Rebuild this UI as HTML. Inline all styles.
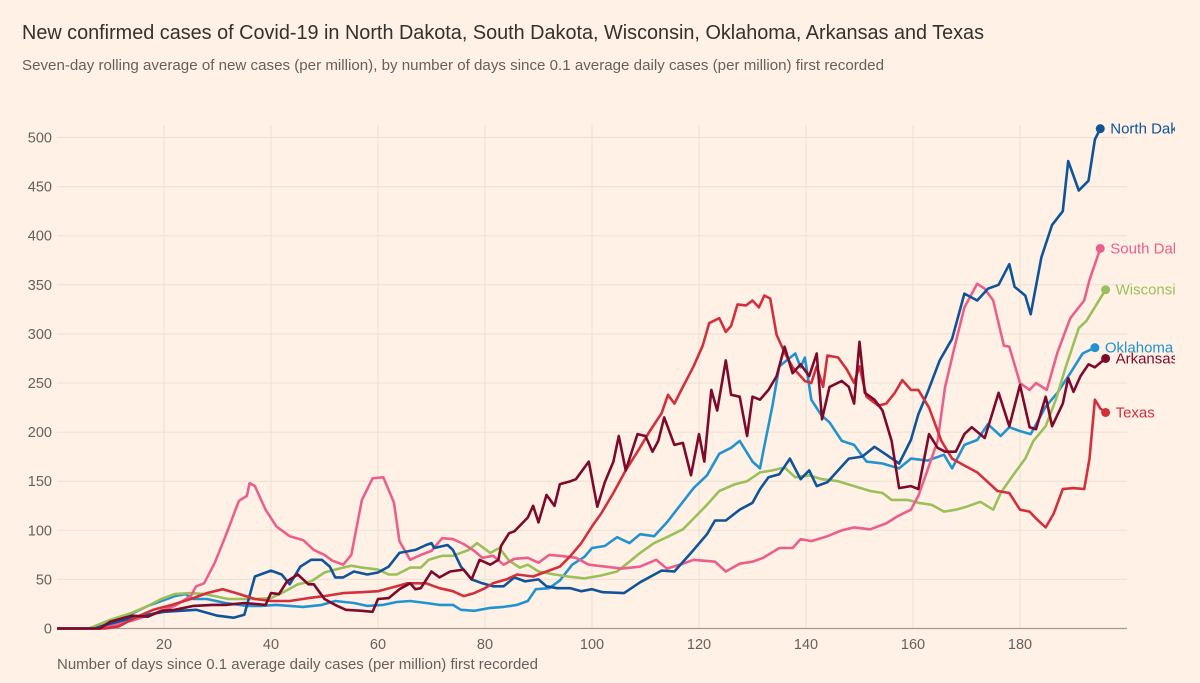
<!DOCTYPE html>
<html><head><meta charset="utf-8"><style>
html,body{margin:0;padding:0;background:#fff1e5;}
svg{display:block;font-family:"Liberation Sans",sans-serif;}
</style></head><body>
<svg id="chart" width="1200" height="683" viewBox="0 0 1200 683">
<rect width="1200" height="683" fill="#fff1e5"/>
<text x="22" y="39" font-size="20" fill="#33302e" textLength="962" lengthAdjust="spacingAndGlyphs">New confirmed cases of Covid-19 in North Dakota, South Dakota, Wisconsin, Oklahoma, Arkansas and Texas</text>
<text x="22" y="70" font-size="14.5" fill="#66605c" textLength="862" lengthAdjust="spacingAndGlyphs">Seven-day rolling average of new cases (per million), by number of days since 0.1 average daily cases (per million) first recorded</text>
<g id="grid"></g><g id="series"></g>
<text x="57" y="669" font-size="14.5" fill="#66605c" textLength="481" lengthAdjust="spacingAndGlyphs">Number of days since 0.1 average daily cases (per million) first recorded</text>
</svg>
<script>
const xTicks=[20,40,60,80,100,120,140,160,180];
const yTicks=[0,50,100,150,200,250,300,350,400,450,500];
const seriesNames=["North Dakota","South Dakota","Wisconsin","Oklahoma","Arkansas","Texas"];
const ndDays=[0,7,10,15,20,26,30,33,35,37,40,42,43.5,45.5,47.5,49.5,51,52,53.5,55.5,58,60,62,64,67,69,70,70.5,73,74,75.5,77.5,79.5,81.5,83.5,85.5,87.5,90,91.5,93.5,96,98,100,102,106,109,113,115.4,118.5,121.5,123,125,127.6,130,131.4,133,135,137,139,140.6,142,144,146,148,150.5,152.8,155,157.4,159.6,161,162.7,165,167.3,169.6,172,174,176,178,179,181,182,184,186,188,189,191,192.8,194,195];
const ndVals=[0,0,5,12,17,19,13,11,14,53,59,55,45,63,70,70,63,52,52,58,55,57,63,77,80,85,87,82,85,80,63,50,46,43,43,52,48,50,43,41,41,38,40,37,36,47,59,58,77,96,110,110,121,128,142,154,157,173,152,161,145,149,161,173,175,185,177,168,192,218,240,273,295,341,334,346,350,371,348,339,320,378,411,425,476,446,456,498,509];
const sdDays=[0,8,14,18,22,25,26,27.5,29.5,31.5,34,35.5,36,37,39,41,43.5,46,48,50,51.5,53.5,55,57,59,61,63,64,66,68,70,72,74,76,78,79.5,81.5,83.5,85.5,88,90,92,94,97,99.4,102.4,105.5,109,112,114,117,119,123,125,127.6,130,132,135,137.5,139,141,144,146.7,149,152,155,157,159.6,161,162.7,164.6,166,167.7,169.6,172,173.4,175,177,178,180,181.8,183,185,187,189.4,192,193,195];
const sdVals=[0,0,8,15,23,33,43,46,67,94,130,135,148,145,121,104,94,90,80,75,69,65,75,131,153,154,128,89,70,75,79,92,91,86,79,72,74,65,71,72,67,75,74,72,65,63,61,63,70,61,66,70,68,58,66,68,72,82,82,91,89,94,100,103,101,107,114,121,135,161,191,246,285,327,351,346,334,288,287,250,243,250,243,281,316,334,355,387];
const wiDays=[0,6,10,14,17,19.5,22,25,27.5,29.5,32,37,40,42,45,47.5,50,52,55,57,60,62,63.5,66,68,69.5,72,74,77,78.5,81,82.7,84.5,86.5,88,90,93,95.5,98.6,101.7,104.7,107,109,111.6,114,117,119,121.5,123.8,126.8,129,131.4,133.7,136,138,140.6,143,146,149,152,154.3,156,159,161,163.5,165.8,168,170,172.6,175,176.4,178.7,181,182.5,184.8,186.7,188.6,191,192.4,196];
const wiVals=[0,0,9,16,23,30,35,36,35,33,30,30,31,36,45,48,57,60,64,62,60,55,55,62,62,70,74,74,80,87,77,82,69,62,65,58,55,53,51,54,58,68,77,87,93,101,112,126,140,147,150,159,161,164,154,156,152,150,145,140,138,131,131,128,126,119,121,124,129,121,138,156,173,191,206,233,267,306,313,345];
const okDays=[0,6,12,17,19.5,22,24,25.5,28,31.5,35.5,38,41,43.5,46,49.5,52,55.5,58,61,63.5,66,69,71.5,74,75.5,78,81,83.5,86,88,89.5,92,94,96.3,98.6,100,102.4,104.7,107,109,111.6,114,117,119,121.5,123.8,126,127.6,130,131.4,132,133.7,135,138,139,139.8,141,142.9,144.4,146.7,149,151.3,154.3,157.4,159.6,162.7,165.8,167.3,169.6,172,174,176.4,178,180,182,184.8,187,189.4,191.7,194];
const okVals=[0,0,10,23,28,33,35,30,30,26,23,23,24,23,22,24,28,26,23,24,27,28,26,24,24,19,18,21,22,24,28,40,41,49,65,73,82,84,93,87,96,94,108,129,143,156,178,184,191,170,163,180,226,267,280,266,276,233,217,210,191,187,170,168,163,173,171,177,163,187,192,208,196,205,201,198,226,240,260,280,286];
const arDays=[0,8,10,14,17,19.5,22,25.5,29,31.5,35,39,40,41.5,43,45,47,48,50,52,54,57,59,60,62,64,66,67,68,70,71.5,73.5,76,77.5,79,81,82.5,83,84.5,85.5,88,89,90,91.5,93,94,96,97,99.4,101,102.4,104,105,106.3,108.5,110,111.3,112.4,113.5,115.4,117,118.5,120,121,122.3,123.4,125,126,127.6,129,130,131.4,133,134.5,136,137.5,139,140.6,142,143,144.4,146.7,148,149,150,151,152.8,154.3,156,157.4,159.6,161,163,164.6,166,168,169.6,171,173.4,175,176,178,180,181.8,183,184.8,186,188,189,190,191.3,192.8,194,196];
const arVals=[0,0,7,13,12,18,19,23,24,24,26,24,36,35,48,55,45,45,30,24,19,18,17,30,31,40,46,40,41,58,52,58,60,50,70,65,70,84,97,99,113,125,108,136,125,147,150,152,170,124,149,170,196,161,198,196,180,191,215,187,189,156,198,170,243,222,273,238,236,196,236,233,243,257,287,260,269,257,280,213,246,252,246,229,292,240,233,222,191,143,145,142,198,184,180,180,198,205,194,222,240,206,248,205,203,236,206,229,255,241,257,269,266,275];
const txDays=[0,9,11.5,15,18,21.5,25,28,31,33.5,37,40,43.5,47,50,53.5,57,60,63.5,65.5,69,71.5,74,76,78,80,81.5,84,86,89,91.5,94,96,98,100,101.7,104,106.3,108.5,110.8,113,114.2,115.4,117,119,120.7,121.9,123.8,125,126,127.2,128.8,130,131.2,132.2,133.3,134.5,136,137.5,139.8,141,142,143.2,144,146,147.6,149,150,151.3,153.5,155,156.6,158,159.6,161,163,165.3,167.3,169.6,172,173.4,175.8,178,180,181.8,183,184.8,186.3,188,190,192,193,194,195,196];
const txVals=[0,0,2,12,19,24,30,36,40,36,30,28,28,31,33,36,37,38,43,46,46,41,38,33,36,41,46,50,55,53,58,63,74,87,104,117,138,161,180,201,219,238,229,246,267,288,311,316,302,308,330,329,334,327,339,336,299,281,266,252,250,267,246,278,276,264,250,267,236,227,229,240,253,243,243,225,191,173,166,159,152,140,138,121,119,112,103,117,142,143,142,173,233,224,220];
const ndCol="#0f5499",sdCol="#eb5f8d",wiCol="#9bbf5a",okCol="#2293d1",arCol="#7d0a2c",txCol="#d2303c";
const X0=57,XS=5.35,Y0=628.5,YS=0.982;
function xs(d){return X0+d*XS;}
function ys(v){return Y0-v*YS;}
const NS="http://www.w3.org/2000/svg";
const svg=document.getElementById('chart');
const grid=document.getElementById('grid');
const ser=document.getElementById('series');
function mk(tag,attrs,parent){const e=document.createElementNS(NS,tag);for(const k in attrs)e.setAttribute(k,attrs[k]);parent.appendChild(e);return e;}
const defs=mk('defs',{},svg);
const cp=mk('clipPath',{id:'clipR'},defs);
mk('rect',{x:0,y:0,width:1175,height:683},cp);
ser.setAttribute('clip-path','url(#clipR)');
yTicks.forEach(t=>{
  const l=mk('line',{x1:57,x2:1127,y1:ys(t),y2:ys(t),stroke:'#ebdfd3','stroke-width':1},grid);
  
  
  const tx=mk('text',{x:52,y:ys(t)+5,'text-anchor':'end','font-size':14.5,fill:'#66605c'},grid);
  tx.textContent=t;
  
  
});
xTicks.forEach(t=>{
  const l=mk('line',{x1:xs(t),x2:xs(t),y1:125,y2:628,stroke:'#ebdfd3','stroke-width':1},grid);
  
  
  const tx=mk('text',{x:xs(t),y:649,'text-anchor':'middle','font-size':14.5,fill:'#66605c'},grid);
  tx.textContent=t;
  
  
});
const ax=mk('line',{x1:57,x2:1127,y1:628.5,y2:628.5,stroke:'#a39c96','stroke-width':1.2},grid);


const S=[[ndDays,ndVals,ndCol,'north-dakota',0],[sdDays,sdVals,sdCol,'south-dakota',0],[wiDays,wiVals,wiCol,'wisconsin',0],[okDays,okVals,okCol,'oklahoma',0],[arDays,arVals,arCol,'arkansas',0],[txDays,txVals,txCol,'texas',0]];
[3,2,1,0,5,4].forEach(i=>{
  const [d,v,c,nm,off]=S[i];
  const pts=d.map((dd,j)=>xs(dd).toFixed(1)+','+ys(v[j]).toFixed(1)).join(' ');
  const p=mk('polyline',{points:pts,fill:'none',stroke:c,'stroke-width':2.6,'stroke-linejoin':'round'},ser);
  
  
  const lx=xs(d[d.length-1]),ly=ys(v[v.length-1]);
  const dot=mk('circle',{cx:lx,cy:ly,r:4.5,fill:c},ser);
  
  
  const lb=mk('text',{x:lx+10,y:ly+5+off,'font-size':15,fill:c},ser);
  lb.textContent=seriesNames[i];
  
  
});
</script>
</body></html>
